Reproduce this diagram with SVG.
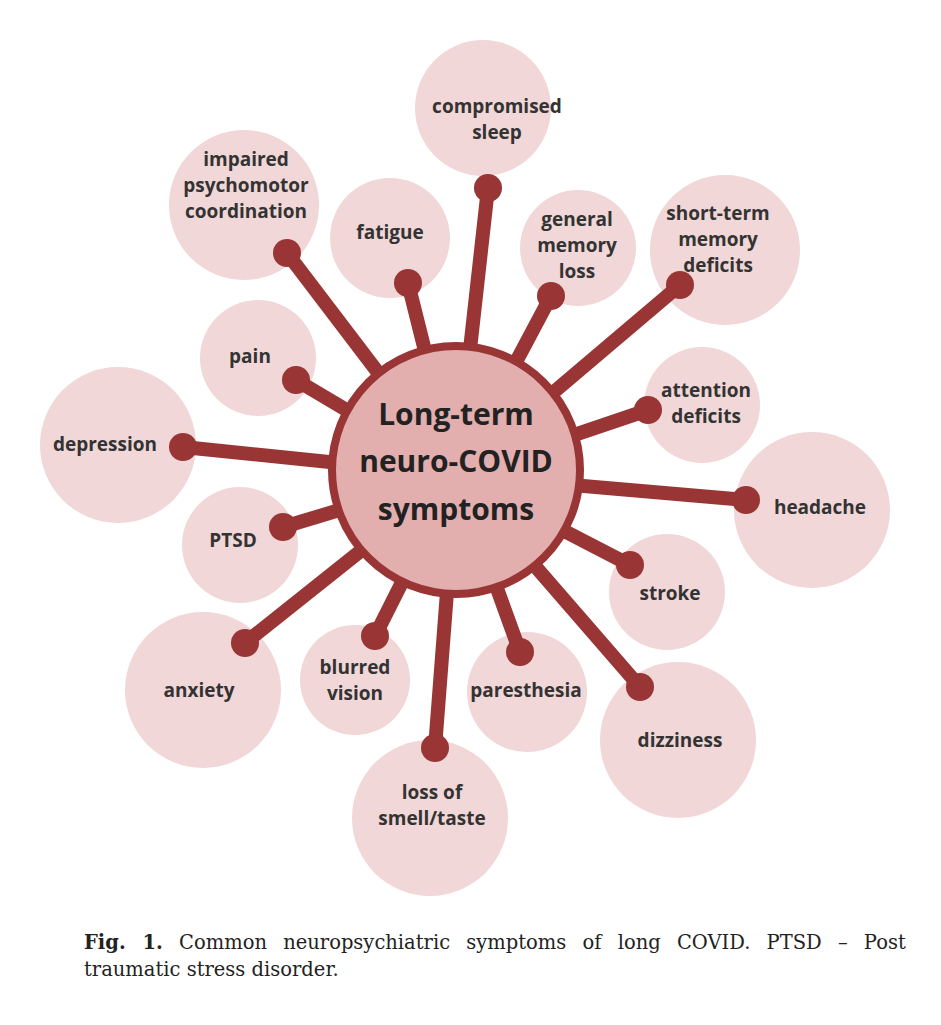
<svg xmlns="http://www.w3.org/2000/svg" width="941" height="1025" viewBox="0 0 941 1025">
<style>
.o{fill:#f1d7d7}
.s{stroke:#993535;stroke-width:14;fill:none}
.k{fill:#993535}
.t{font-family:"Open Sans","Liberation Sans",sans-serif;font-weight:bold;font-size:19px;fill:#333;text-anchor:middle}
.c{font-family:"DejaVu Serif","Liberation Serif",serif;font-size:19.5px;fill:#222}
</style>
<rect width="941" height="1025" fill="#fff"/>
<g id="outer">
<g id="n-sleep"><circle class="o" cx="483" cy="108" r="68"/><text class="t" x="497" y="113">compromised</text><text class="t" x="497" y="139">sleep</text></g>
<g id="n-impaired"><circle class="o" cx="244" cy="205" r="75"/><text class="t" x="246" y="166">impaired</text><text class="t" x="246" y="192">psychomotor</text><text class="t" x="246" y="218">coordination</text></g>
<g id="n-fatigue"><circle class="o" cx="390" cy="238" r="60"/><text class="t" x="390" y="239">fatigue</text></g>
<g id="n-genmem"><circle class="o" cx="578" cy="248" r="58"/><text class="t" x="577" y="226">general</text><text class="t" x="577" y="252">memory</text><text class="t" x="577" y="278">loss</text></g>
<g id="n-short"><circle class="o" cx="725" cy="250" r="75"/><text class="t" x="718" y="220">short-term</text><text class="t" x="718" y="246">memory</text><text class="t" x="718" y="272">deficits</text></g>
<g id="n-pain"><circle class="o" cx="258" cy="358" r="58"/><text class="t" x="250" y="363">pain</text></g>
<g id="n-attention"><circle class="o" cx="702" cy="405" r="58"/><text class="t" x="706" y="397">attention</text><text class="t" x="706" y="423">deficits</text></g>
<g id="n-depression"><circle class="o" cx="118" cy="445" r="78"/><text class="t" x="105" y="451">depression</text></g>
<g id="n-headache"><circle class="o" cx="812" cy="510" r="78"/><text class="t" x="820" y="514">headache</text></g>
<g id="n-ptsd"><circle class="o" cx="240" cy="545" r="58"/><text class="t" x="233" y="547">PTSD</text></g>
<g id="n-stroke"><circle class="o" cx="667" cy="592" r="58"/><text class="t" x="670" y="600">stroke</text></g>
<g id="n-anxiety"><circle class="o" cx="203" cy="690" r="78"/><text class="t" x="199" y="697">anxiety</text></g>
<g id="n-blurred"><circle class="o" cx="355" cy="680" r="55"/><text class="t" x="355" y="674">blurred</text><text class="t" x="355" y="700">vision</text></g>
<g id="n-paresthesia"><circle class="o" cx="527" cy="692" r="60"/><text class="t" x="526" y="697">paresthesia</text></g>
<g id="n-dizziness"><circle class="o" cx="678" cy="740" r="78"/><text class="t" x="680" y="747">dizziness</text></g>
<g id="n-loss"><circle class="o" cx="430" cy="818" r="78"/><text class="t" x="432" y="799">loss of</text><text class="t" x="432" y="825">smell/taste</text></g>
</g>
<g id="connectors">
<path class="s" d="M456 475L488 188M456 475L287 253M456 475L408 283M456 475L551 296M456 475L680 285M456 475L296 380M456 475L648 410M456 475L183 447M456 475L746 500M456 475L283 527M456 475L630 565M456 475L245 643M456 475L375 636M456 475L520 652M456 475L640 687M456 475L435 748"/>
<g class="k"><circle cx="488" cy="188" r="14"/><circle cx="287" cy="253" r="14"/><circle cx="408" cy="283" r="14"/><circle cx="551" cy="296" r="14"/><circle cx="680" cy="285" r="14"/><circle cx="296" cy="380" r="14"/><circle cx="648" cy="410" r="14"/><circle cx="183" cy="447" r="14"/><circle cx="746" cy="500" r="14"/><circle cx="283" cy="527" r="14"/><circle cx="630" cy="565" r="14"/><circle cx="245" cy="643" r="14"/><circle cx="375" cy="636" r="14"/><circle cx="520" cy="652" r="14"/><circle cx="640" cy="687" r="14"/><circle cx="435" cy="748" r="14"/></g>
</g>
<g id="center"><circle cx="456" cy="470" r="124" fill="#e3aeae" stroke="#993535" stroke-width="8"/>
<text class="t" style="font-size:30px;fill:#222" x="456" y="425">Long-term</text><text class="t" style="font-size:30px;fill:#222" x="456" y="472">neuro-COVID</text><text class="t" style="font-size:30px;fill:#222" x="456" y="520">symptoms</text></g>
<text class="c" x="84" y="949" word-spacing="10"><tspan font-weight="bold">Fig. 1.</tspan> Common neuropsychiatric symptoms of long COVID. PTSD – Post</text>
<text class="c" x="84" y="976">traumatic stress disorder.</text>
</svg>
